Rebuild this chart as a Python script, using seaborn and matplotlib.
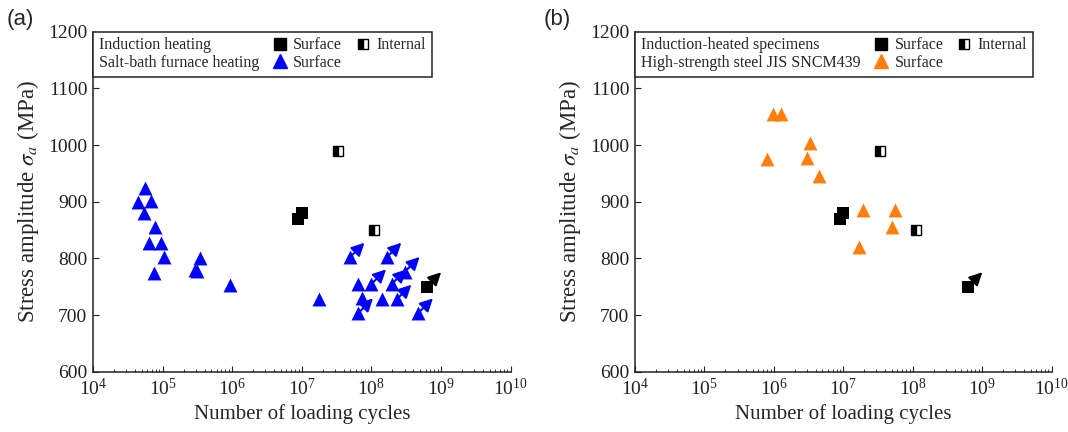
import numpy as np
import pandas as pd
import seaborn as sns
import matplotlib
matplotlib.use("Agg")
import matplotlib.pyplot as plt
from matplotlib.lines import Line2D

# ---------------- data ----------------
# Induction heating, surface-initiated failures
ind_surf_N = [1.0e7, 8.9e6]
ind_surf_S = [880, 870]
# Induction heating, surface, run-out (arrow)
ind_runout_N = [6.2e8]
ind_runout_S = [750]
# Induction heating, internal (half-filled squares)
ind_int_N = [3.35e7, 1.1e8]
ind_int_S = [990, 850]

# Salt-bath furnace heating (surface)
salt_N = [5.5e4, 4.5e4, 6.8e4, 5.35e4, 7.8e4, 6.45e4, 9.5e4, 1.06e5, 7.4e4,
          3.45e5, 2.9e5, 3.1e5, 9.3e5, 1.77e7,
          4.9e7, 1.66e8, 3.04e8, 6.5e7, 1.0e8, 1.96e8, 7.3e7, 1.41e8, 2.31e8,
          6.5e7, 4.72e8]
salt_S = [925, 900, 902, 880, 855, 827, 827, 802, 774,
          800, 780, 778, 754, 728,
          802, 802, 777, 755, 755, 755, 730, 728, 728,
          704, 704]
salt_runout = [0, 0, 0, 0, 0, 0, 0, 0, 0,
               0, 0, 0, 0, 0,
               1, 1, 1, 0, 1, 1, 0, 0, 1,
               1, 1]

# High-strength steel JIS SNCM439 (surface)
sncm_N = [9.6e5, 1.26e6, 3.3e6, 7.9e5, 3.0e6, 4.4e6, 1.95e7, 5.6e7, 5.1e7, 1.67e7]
sncm_S = [1054, 1054, 1004, 975, 977, 945, 886, 886, 855, 821]

x_ticks = [1e4, 1e5, 1e6, 1e7, 1e8, 1e9, 1e10]
y_ticks = [600, 700, 800, 900, 1000, 1100, 1200]

BLUE = "#0000FF"
ORANGE = "#FF7F0E"

# ---------------- style ----------------
sns.set_style("ticks", {"xtick.direction": "in", "ytick.direction": "in"})
plt.rcParams["font.family"] = ["Liberation Serif", "DejaVu Serif"]
plt.rcParams["mathtext.fontset"] = "stix"
plt.rcParams["axes.linewidth"] = 1.1
plt.rcParams["axes.edgecolor"] = "#222222"
plt.rcParams["xtick.major.size"] = 4
plt.rcParams["xtick.minor.size"] = 2.5
plt.rcParams["ytick.major.size"] = 4
plt.rcParams["xtick.color"] = "#222222"
plt.rcParams["ytick.color"] = "#222222"

fig = plt.figure(figsize=(10.68, 4.32), dpi=100)
axA = fig.add_axes([0.0871, 0.139, 0.391, 0.788])
axB = fig.add_axes([0.5946, 0.139, 0.390, 0.788])

SQ = 8      # square marker size (points)
TRI = 10    # triangle marker size (points)


def arrows(ax, xs, ys, color):
    for x, y in zip(xs, ys):
        ax.annotate("", xy=(x, y), xytext=(10.5, 10.5), textcoords="offset points",
                    arrowprops=dict(arrowstyle="<|-,head_length=0.55,head_width=0.28",
                                    color=color, lw=1.5, shrinkA=0, shrinkB=0,
                                    mutation_scale=14),
                    zorder=2)


def induction(ax):
    df_s = pd.DataFrame({"N": ind_surf_N + ind_runout_N, "S": ind_surf_S + ind_runout_S})
    sns.scatterplot(data=df_s, x="N", y="S", ax=ax, marker="s", s=SQ ** 2,
                    color="black", linewidth=0, zorder=4)
    arrows(ax, ind_runout_N, ind_runout_S, "black")
    df_i = pd.DataFrame({"N": ind_int_N, "S": ind_int_S})
    sns.lineplot(data=df_i, x="N", y="S", ax=ax, marker="s", markersize=SQ - 1,
                 linestyle="none", fillstyle="left", markerfacecolor="black",
                 markerfacecoloralt="white", markeredgecolor="black",
                 markeredgewidth=1.0, estimator=None, zorder=4)


def setup(ax):
    ax.set_xscale("log")
    ax.set_xlim(1e4, 1e10)
    ax.set_ylim(600, 1200)
    ax.set_xticks(x_ticks)
    ax.set_yticks(y_ticks)
    ax.tick_params(axis="both", which="major", labelsize=14, pad=4)
    ax.tick_params(axis="x", which="minor", direction="in")
    ax.set_xlabel("Number of loading cycles", fontsize=15, labelpad=4)
    ax.set_ylabel(r"Stress amplitude $\sigma_a$ (MPa)", fontsize=16.5, labelpad=5)
    sns.despine(ax=ax)


def make_legend(ax, row1, row2, tri_color):
    blank = Line2D([], [], linestyle="none", marker="")
    h_sq = Line2D([], [], linestyle="none", marker="s", color="black", markersize=SQ)
    h_half = Line2D([], [], linestyle="none", marker="s", markersize=SQ - 1,
                    fillstyle="left", markerfacecolor="black",
                    markerfacecoloralt="white", markeredgecolor="black",
                    markeredgewidth=1.0)
    h_tri = Line2D([], [], linestyle="none", marker="^", color=tri_color, markersize=TRI)
    handles = [blank, blank, h_sq, h_tri, h_half, blank]
    labels = [row1, row2, "Surface", "Surface", "Internal", ""]
    leg = ax.legend(handles, labels, ncol=3, loc="upper left", borderaxespad=0,
                    frameon=True, fancybox=False, edgecolor="#222222",
                    framealpha=1, fontsize=11.5, handlelength=0.8,
                    handletextpad=0.45, columnspacing=0.9, labelspacing=0.12,
                    borderpad=0.35)
    leg.get_frame().set_linewidth(1.1)
    # remove handle space for the text-only first column
    cols = leg._legend_handle_box.get_children()
    for hp in cols[0].get_children():
        hp.get_children()[0].width = 0
        hp.sep = 0
    return leg


# ---------------- panel (a) ----------------
df_salt = pd.DataFrame({"N": salt_N, "S": salt_S, "runout": salt_runout})
sns.scatterplot(data=df_salt, x="N", y="S", ax=axA, marker="^", s=TRI ** 2,
                color=BLUE, linewidth=0, zorder=3)
ro = df_salt[df_salt["runout"] == 1]
arrows(axA, ro["N"], ro["S"], BLUE)
induction(axA)
setup(axA)
make_legend(axA, "Induction heating", "Salt-bath furnace heating", BLUE)

# ---------------- panel (b) ----------------
df_sncm = pd.DataFrame({"N": sncm_N, "S": sncm_S})
sns.scatterplot(data=df_sncm, x="N", y="S", ax=axB, marker="^", s=TRI ** 2,
                color=ORANGE, linewidth=0, zorder=3)
induction(axB)
setup(axB)
make_legend(axB, "Induction-heated specimens", "High-strength steel JIS SNCM439", ORANGE)

fig.text(0.006, 0.955, "(a)", fontsize=16, family="Liberation Sans", va="center")
fig.text(0.509, 0.955, "(b)", fontsize=16, family="Liberation Sans", va="center")

fig.savefig("out.png", dpi=100)
